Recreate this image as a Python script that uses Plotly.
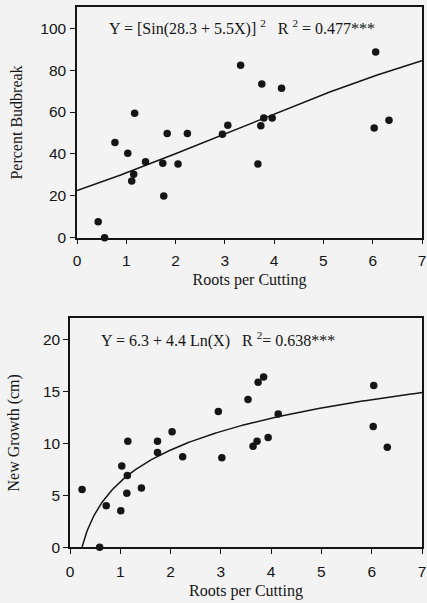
import numpy as np
import plotly.graph_objects as go

# Top panel: Percent budbreak vs roots per cutting
top_roots = [0.43, 0.56, 0.77, 1.03, 1.11, 1.15, 1.17, 1.39, 1.74, 1.76, 1.83, 2.05, 2.24,
             2.95, 3.06, 3.32, 3.67, 3.73, 3.75, 3.79, 3.96, 4.15, 6.03, 6.06, 6.33]
top_budbreak = [7.6, 0, 45.4, 40.3, 27.1, 30.3, 59.4, 36.3, 35.5, 19.9, 49.8, 35.2, 49.8,
                49.4, 53.7, 82.3, 35.2, 53.5, 73.4, 57.2, 57.2, 71.3, 52.4, 88.7, 56.1]
# fitted model Y = 100*[Sin(a + bX)]^2 (degrees)
top_a, top_b = 28.3, 5.5

# Bottom panel: New growth vs roots per cutting
bot_roots = [0.24, 0.59, 0.72, 1.01, 1.03, 1.13, 1.14, 1.15, 1.42, 1.74, 1.74, 2.03, 2.24,
             2.95, 3.02, 3.54, 3.64, 3.72, 3.74, 3.85, 3.94, 4.14, 6.03, 6.04, 6.31]
bot_growth = [5.55, 0, 4.0, 3.5, 7.8, 5.2, 6.9, 10.2, 5.7, 10.2, 9.1, 11.1, 8.7,
              13.05, 8.6, 14.2, 9.7, 10.2, 15.85, 16.35, 10.55, 12.8, 11.6, 15.55, 9.6]
# fitted model Y = c + d Ln(X)
bot_c, bot_d = 6.3, 4.4

x_ticks = [0, 1, 2, 3, 4, 5, 6, 7]
top_y_ticks = [0, 20, 40, 60, 80, 100]
bot_y_ticks = [0, 5, 10, 15, 20]

INK = "#151515"
BG = "#f3f3f3"
W, H = 427, 603

xt = np.linspace(0, 7, 200)
yt = 100 * np.sin(np.radians(top_a + top_b * xt)) ** 2
x0 = np.exp(-bot_c / bot_d)
xb = np.linspace(x0, 7, 300)
yb = bot_c + bot_d * np.log(xb)

fig = go.Figure()
fig.add_trace(go.Scatter(x=xt, y=yt, mode="lines", line=dict(color=INK, width=1.5),
                         xaxis="x", yaxis="y", showlegend=False, hoverinfo="skip"))
fig.add_trace(go.Scatter(x=top_roots, y=top_budbreak, mode="markers",
                         marker=dict(color=INK, size=7.5), cliponaxis=False,
                         xaxis="x", yaxis="y", showlegend=False))
fig.add_trace(go.Scatter(x=xb, y=yb, mode="lines", line=dict(color=INK, width=1.5),
                         xaxis="x2", yaxis="y2", showlegend=False, hoverinfo="skip"))
fig.add_trace(go.Scatter(x=bot_roots, y=bot_growth, mode="markers",
                         marker=dict(color=INK, size=7.5), cliponaxis=False,
                         xaxis="x2", yaxis="y2", showlegend=False))

def px_x(p):
    return p / W

def px_y(p):
    return (H - p) / H

tickfont = dict(family="Liberation Sans, Arial, sans-serif", size=15.5, color=INK)
serif = "Liberation Serif, Times New Roman, serif"
titlefont = dict(family=serif, size=16, color=INK)

axis_common = dict(showgrid=False, zeroline=False, showline=True, linecolor=INK, linewidth=1.5,
                   mirror=True, ticks="outside", ticklen=5, tickwidth=1.3, tickcolor=INK,
                   tickfont=tickfont, automargin=False, ticklabeloverflow="allow")

fig.update_layout(
    width=W, height=H, autosize=False,
    margin=dict(l=0, r=0, t=0, b=0),
    paper_bgcolor=BG, plot_bgcolor=BG,
    xaxis=dict(domain=[px_x(77), px_x(422)], range=[0, 7], tickvals=x_ticks,
               anchor="y", ticklabelstandoff=3,
               title=dict(text="Roots per Cutting", font=titlefont, standoff=6),
               **axis_common),
    yaxis=dict(domain=[px_y(237.7), px_y(7.3)], range=[0, 110], tickvals=top_y_ticks,
               anchor="x", ticklabelstandoff=1,
               title=dict(text="Percent Budbreak", font=titlefont, standoff=14),
               **axis_common),
    xaxis2=dict(domain=[px_x(70), px_x(422)], range=[0, 7], tickvals=x_ticks,
                anchor="y2", ticklabelstandoff=4,
                title=dict(text="Roots per Cutting", font=titlefont, standoff=6),
                **axis_common),
    yaxis2=dict(domain=[px_y(547.3), px_y(318.3)], range=[0, 22], tickvals=bot_y_ticks,
                anchor="x2", ticklabelstandoff=0,
                title=dict(text="New Growth (cm)", font=titlefont, standoff=19),
                **axis_common),
)

ann = []
ann.append(dict(text="Y = [Sin(28.3 + 5.5X)] <sup>2</sup>   R <sup>2</sup> = 0.477***",
                x=0.6, y=100.5, xref="x", yref="y", xanchor="left", yanchor="middle",
                showarrow=False, font=dict(family=serif, size=16, color=INK)))
ann.append(dict(text="Y = 6.3 + 4.4 Ln(X)   R <sup>2</sup>= 0.638***",
                x=0.58, y=20.0, xref="x2", yref="y2", xanchor="left", yanchor="middle",
                showarrow=False, font=dict(family=serif, size=16, color=INK)))
fig.update_layout(annotations=ann)

fig.write_html("out.html")
